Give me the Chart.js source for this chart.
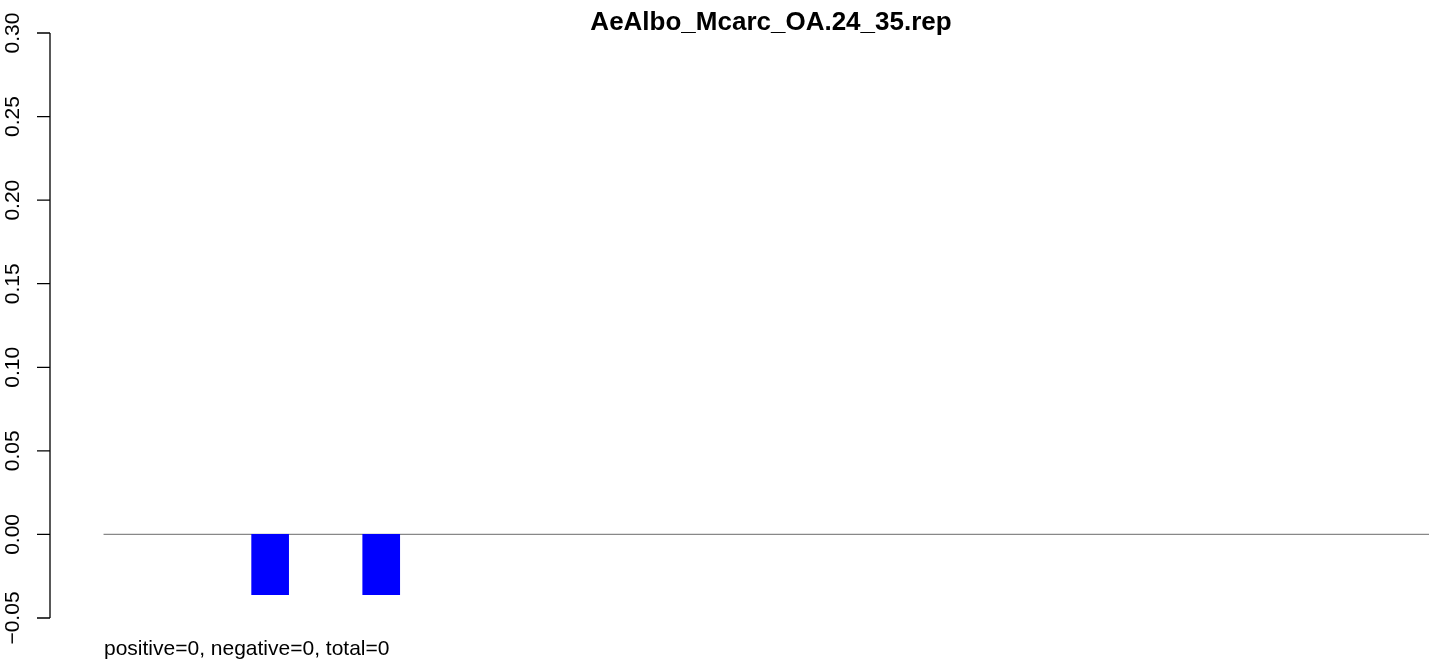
<!DOCTYPE html>
<html>
<head>
<meta charset="utf-8">
<script src="https://cdn.jsdelivr.net/npm/chart.js@4.4.1/dist/chart.umd.min.js"></script>
<style>
  html, body { margin: 0; padding: 0; background: #fff; }
  #wrap { width: 1429px; height: 660px; position: relative; }
</style>
</head>
<body>
<div id="wrap"><canvas id="graphe"></canvas></div>
<script>
// Données
const titre = 'AeAlbo_Mcarc_OA.24_35.rep';
const legendeBas = 'positive=0, negative=0, total=0';
const positionsBarres = [6, 9];
const valeursBarres = [-0.036, -0.036];
const ligneZeroX = [1.5, 37.3];
const ligneZeroY = [0, 0];
const graduationsY = [-0.05, 0, 0.05, 0.10, 0.15, 0.20, 0.25, 0.30];

const police = '"Liberation Sans", Arial, Helvetica, sans-serif';

// Axe Y façon R (labels verticaux) + titre + texte du bas
const axeR = {
    id: 'axeR',
    afterDraw(chart) {
        const ctx = chart.ctx;
        const y = chart.scales.y;
        const xAxe = 50;
        const haut = y.getPixelForValue(graduationsY[graduationsY.length - 1]);
        const bas = y.getPixelForValue(graduationsY[0]);
        ctx.save();
        ctx.strokeStyle = '#000';
        ctx.lineWidth = 1.3;
        ctx.beginPath();
        ctx.moveTo(xAxe, haut);
        ctx.lineTo(xAxe, bas);
        graduationsY.forEach((v) => {
            const py = y.getPixelForValue(v);
            ctx.moveTo(37, py);
            ctx.lineTo(xAxe, py);
        });
        ctx.stroke();

        ctx.fillStyle = '#000';
        ctx.font = '21px ' + police;
        ctx.textAlign = 'center';
        ctx.textBaseline = 'alphabetic';
        graduationsY.forEach((v) => {
            const py = y.getPixelForValue(v);
            ctx.save();
            ctx.translate(18.5, py);
            ctx.rotate(-Math.PI / 2);
            ctx.fillText(v.toFixed(2).replace('-', '\u2212'), 0, 0);
            ctx.restore();
        });

        ctx.font = 'bold 26px ' + police;
        ctx.fillText(titre, 771, 30);

        ctx.font = '21px ' + police;
        ctx.textAlign = 'left';
        ctx.fillText(legendeBas, 104, 655);
        ctx.restore();
    },
};

new Chart(document.getElementById('graphe'), {
    type: 'bar',
    data: {
        datasets: [
            {
                type: 'line',
                data: ligneZeroX.map((x, i) => ({ x, y: ligneZeroY[i] })),
                borderColor: '#888888',
                borderWidth: 1.3,
                pointRadius: 0,
                order: 2,
            },
            {
                data: positionsBarres.map((x, i) => ({ x, y: valeursBarres[i] })),
                backgroundColor: '#0000ff',
                barThickness: 37,
                borderWidth: 0,
                order: 1,
            },
        ],
    },
    options: {
        responsive: true,
        maintainAspectRatio: false,
        animation: false,
        layout: { padding: { top: 33, bottom: 42, left: 48, right: 0 } },
        plugins: { legend: { display: false }, tooltip: { enabled: false }, title: { display: false } },
        scales: {
            x: { type: 'linear', min: 0, max: 37.3, offset: false, display: false },
            y: { min: -0.05, max: 0.30, display: false },
        },
    },
    plugins: [axeR],
});
</script>
</body>
</html>
